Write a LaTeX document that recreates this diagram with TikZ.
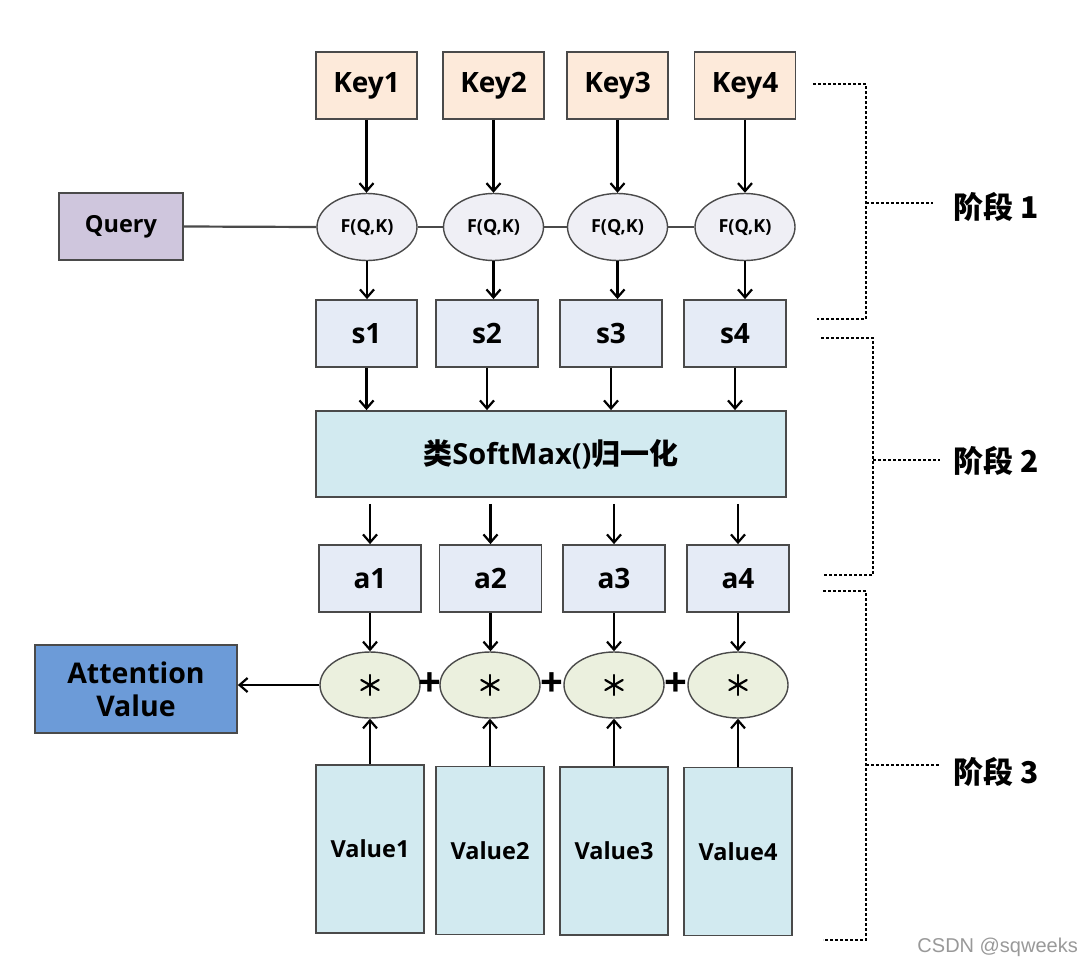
\documentclass[tikz,border=0pt]{standalone}
\usepackage{fontspec}
\setmainfont{Open Sans}
\newfontfamily\cjk{Noto Sans CJK SC}
\newfontfamily\wm{Liberation Sans}
\usetikzlibrary{shapes.geometric,arrows.meta,calc}
\definecolor{keyc}{HTML}{FDEADA}
\definecolor{queryc}{HTML}{CFC6DD}
\definecolor{fqkc}{HTML}{EFEFF5}
\definecolor{sc}{HTML}{E5EBF6}
\definecolor{softc}{HTML}{D2EAF0}
\definecolor{starc}{HTML}{EBF0DE}
\definecolor{attc}{HTML}{6C9BD8}
\definecolor{bordc}{HTML}{4A4A4A}
\begin{document}
\begin{tikzpicture}[x=1pt,y=-1pt,
  box/.style={draw=bordc, line width=1.8pt, rectangle, inner sep=0pt, align=center,
    font=\bfseries\fontsize{28}{32}\selectfont},
  keybox/.style={box, fill=keyc, minimum width=101pt, minimum height=67pt},
  sbox/.style={box, fill=sc, minimum width=102pt, minimum height=67pt},
  valbox/.style={box, fill=softc, minimum width=108pt, minimum height=168pt,
    font=\bfseries\fontsize{23.5}{27}\selectfont},
  fqk/.style={ellipse, draw=bordc, line width=1.4pt, fill=fqkc, inner sep=0pt,
    minimum width=100pt, minimum height=67pt, font=\bfseries\fontsize{18}{20}\selectfont},
  starell/.style={ellipse, draw=bordc, line width=1.4pt, fill=starc, inner sep=0pt,
    minimum width=100pt, minimum height=66pt},
  astk/.style={line width=2.2pt, line cap=round},
  plussign/.style={inner sep=0pt, font=\bfseries\fontsize{40}{40}\selectfont},
  arr/.style={line width=2.2pt, -{Straight Barb[length=8pt,width=14pt]}},
  conn/.style={line width=2.2pt, draw=bordc},
  brk/.style={line width=2pt, dash pattern=on 3pt off 2pt},
  stage/.style={inner sep=0pt, font=\cjk\bfseries\fontsize{30}{32}\selectfont}
]
\useasboundingbox (0,0) rectangle (1081,964);
\fill[white] (0,0) rectangle (1081,964);

% Keys
\node[keybox] (k1) at (366.5,85.5) {Key1};
\node[keybox] (k2) at (493.5,85.5) {Key2};
\node[keybox] (k3) at (617.5,85.5) {Key3};
\node[keybox] (k4) at (745,85.5) {Key4};

% Query
\node[box, fill=queryc, minimum width=124pt, minimum height=67pt,
  font=\bfseries\fontsize{23.5}{27}\selectfont] (q) at (121,226.5) {Query};

% F(Q,K)
\node[fqk] (f1) at (367,227) {F(Q,K)};
\node[fqk] (f2) at (493.5,227) {F(Q,K)};
\node[fqk] (f3) at (617.5,227) {F(Q,K)};
\node[fqk] (f4) at (745,227) {F(Q,K)};

% s
\node[sbox, minimum width=101pt] (s1) at (366.5,333.5) {s1};
\node[sbox] (s2) at (487,333.5) {s2};
\node[sbox] (s3) at (611,333.5) {s3};
\node[sbox] (s4) at (735,333.5) {s4};

% softmax
\node[box, fill=softc, minimum width=470pt, minimum height=86pt,
  font=\bfseries\fontsize{29}{32}\selectfont] (soft) at (551,454)
  {{\cjk 类}SoftMax(){\cjk 归一化}};

% a
\node[sbox] (a1) at (370,578.5) {a1};
\node[sbox] (a2) at (490.5,578.5) {a2};
\node[sbox] (a3) at (614,578.5) {a3};
\node[sbox] (a4) at (738,578.5) {a4};

% star ellipses
\node[starell] (m1) at (370,685) {};
\node[starell] (m2) at (490,685) {};
\node[starell] (m3) at (614,685) {};
\node[starell] (m4) at (738,685) {};
\foreach \i in {1,2,3,4} {
  \draw[astk] ([yshift=-10pt]m\i.center) -- ([yshift=10pt]m\i.center);
  \draw[astk] ($(m\i.center)+(-8.7,-5)$) -- ($(m\i.center)+(8.7,5)$);
  \draw[astk] ($(m\i.center)+(-8.7,5)$) -- ($(m\i.center)+(8.7,-5)$);
}

\node[plussign] (p1) at ($(m1.east)!0.5!(m2.west)$) {+};
\node[plussign] (p2) at ($(m2.east)!0.5!(m3.west)$) {+};
\node[plussign] (p3) at ($(m3.east)!0.5!(m4.west)$) {+};

% Attention
\node[box, fill=attc, minimum width=202pt, minimum height=88pt,
  font=\bfseries\fontsize{28.5}{33}\selectfont] (att) at (136,689) {Attention\\Value};

% Values
\node[valbox] (v1) at (370,849) {Value1};
\node[valbox] (v2) at (490,850.5) {Value2};
\node[valbox] (v3) at (614,851) {Value3};
\node[valbox] (v4) at (738,851.5) {Value4};

% connectors
\foreach \i in {1,2,3,4} {
  \draw[arr] (k\i.south) -- (k\i.south |- f\i.north);
  \draw[arr] (f\i.south) -- (f\i.south |- s\i.north);
  \draw[arr] (s\i.south) -- (s\i.south |- soft.north);
  \draw[arr, shorten <=6pt] (a\i.north |- soft.south) -- (a\i.north);
  \draw[arr] (a\i.south) -- (a\i.south |- m\i.north);
  \draw[arr] (v\i.north) -- (v\i.north |- m\i.south);
}
\draw[conn] (q.east) -- (f1.west);
\draw[conn] (f1.east) -- (f2.west);
\draw[conn] (f2.east) -- (f3.west);
\draw[conn] (f3.east) -- (f4.west);
\draw[arr] (m1.west) -- (m1.west -| att.east);

% stage brackets
\draw[brk] (813,84) -- (866,84) -- (866,319) -- (817,319);
\draw[brk] (866,203) -- (933,203);
\node[stage] (st1) at (996,207) {阶段 1};

\draw[brk] (821,338) -- (873,338) -- (873,575) -- (823,575);
\draw[brk] (873,460) -- (940,460);
\node[stage] (st2) at (996,461) {阶段 2};

\draw[brk] (823,591) -- (866,591) -- (866,940) -- (823,940);
\draw[brk] (866,765) -- (940,765);
\node[stage] (st3) at (996,772) {阶段 3};

\node[inner sep=0pt, text=black!40, font=\wm\fontsize{20}{22}\selectfont, anchor=east] (wmk) at (1078,947) {CSDN @sqweeks};
\end{tikzpicture}
\end{document}
